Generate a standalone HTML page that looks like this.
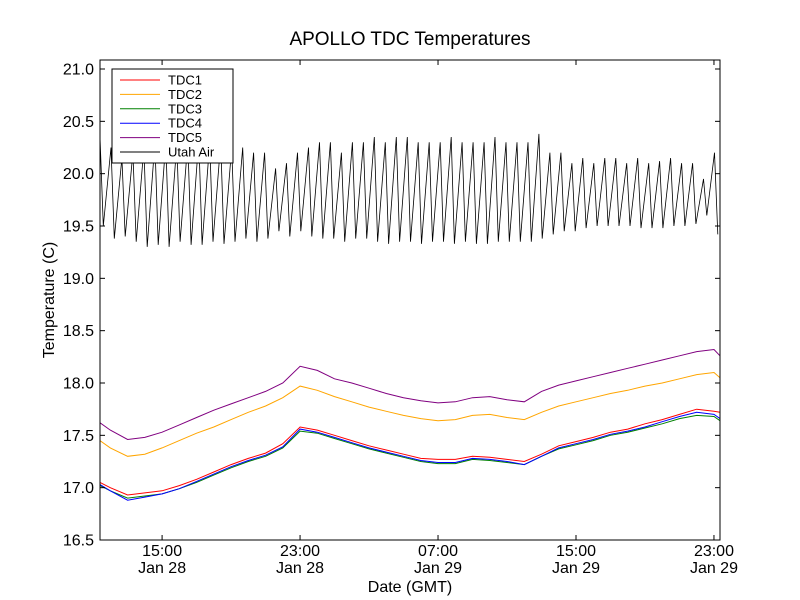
<!DOCTYPE html>
<html><head><meta charset="utf-8"><style>
body{margin:0;background:#fff;}
svg{display:block;font-family:"Liberation Sans","DejaVu Sans",sans-serif;}
</style></head><body>
<svg id="chart" width="800" height="600"></svg>
<script>
const hours=[11.4,12,13,14,15,16,17,18,19,20,21,22,23,24,25,26,27,28,29,30,31,32,33,34,35,36,37,38,39,40,41,42,43,44,45,46,47,47.35];
const tdc1=[17.05,17.0,16.93,16.95,16.97,17.02,17.08,17.15,17.22,17.28,17.33,17.42,17.58,17.55,17.5,17.45,17.4,17.36,17.32,17.28,17.27,17.27,17.3,17.29,17.27,17.25,17.32,17.4,17.44,17.48,17.53,17.56,17.61,17.65,17.7,17.75,17.73,17.72];
const tdc2=[17.45,17.38,17.3,17.32,17.38,17.45,17.52,17.58,17.65,17.72,17.78,17.86,17.97,17.93,17.87,17.82,17.77,17.73,17.69,17.66,17.64,17.65,17.69,17.7,17.67,17.65,17.72,17.78,17.82,17.86,17.9,17.93,17.97,18.0,18.04,18.08,18.1,18.05];
const tdc3=[17.02,16.97,16.9,16.92,16.94,16.99,17.05,17.12,17.19,17.25,17.3,17.38,17.54,17.52,17.47,17.42,17.37,17.33,17.29,17.25,17.23,17.23,17.27,17.26,17.24,17.22,17.3,17.37,17.41,17.45,17.5,17.53,17.57,17.61,17.66,17.69,17.68,17.64];
const tdc4=[17.03,16.97,16.88,16.91,16.94,16.99,17.06,17.13,17.2,17.26,17.31,17.39,17.56,17.53,17.48,17.43,17.38,17.34,17.3,17.26,17.24,17.24,17.28,17.27,17.25,17.22,17.3,17.38,17.42,17.46,17.51,17.54,17.58,17.63,17.68,17.72,17.7,17.66];
const tdc5=[17.62,17.55,17.46,17.48,17.53,17.6,17.67,17.74,17.8,17.86,17.92,18.0,18.16,18.12,18.04,18.0,17.95,17.9,17.86,17.83,17.81,17.82,17.86,17.87,17.84,17.82,17.92,17.98,18.02,18.06,18.1,18.14,18.18,18.22,18.26,18.3,18.32,18.26];
const utahHigh=[20.35,20.25,20.15,20.2,20.25,20.3,20.3,20.28,20.3,20.33,20.3,20.3,20.25,20.25,20.2,20.2,20.05,20.1,20.2,20.25,20.3,20.3,20.2,20.3,20.3,20.35,20.3,20.35,20.35,20.3,20.3,20.3,20.35,20.3,20.3,20.3,20.35,20.3,20.3,20.3,20.38,20.2,20.2,20.1,20.15,20.1,20.15,20.15,20.1,20.15,20.1,20.12,20.15,20.1,20.1,19.95,20.2];
const utahLow=[19.5,19.38,19.4,19.35,19.3,19.32,19.3,19.35,19.32,19.32,19.35,19.33,19.35,19.38,19.35,19.38,19.45,19.4,19.45,19.4,19.38,19.38,19.35,19.38,19.38,19.35,19.33,19.35,19.35,19.33,19.35,19.35,19.33,19.35,19.33,19.33,19.35,19.35,19.35,19.35,19.38,19.42,19.45,19.45,19.48,19.5,19.5,19.5,19.5,19.48,19.48,19.48,19.5,19.5,19.52,19.6,19.42];
const yTicks=[16.5,17.0,17.5,18.0,18.5,19.0,19.5,20.0,20.5,21.0];
const xTickHours=[15,23,31,39,47];
const xTickTop=["15:00","23:00","07:00","15:00","23:00"];
const xTickBottom=["Jan 28","Jan 28","Jan 29","Jan 29","Jan 29"];
const L=100,R=720,T=60,B=540,x0=11.4,x1=47.35,y0=16.5,y1=21.086;
const X=h=>L+(h-x0)/(x1-x0)*(R-L);
const Y=v=>B-(v-y0)/(y1-y0)*(B-T);
const NS="http://www.w3.org/2000/svg";
const svg=document.getElementById('chart');
function mk(tag,attrs,parent){const e=document.createElementNS(NS,tag);for(const k in attrs)e.setAttribute(k,attrs[k]);(parent||svg).appendChild(e);return e;}
const series=[["TDC1",tdc1,"#ff0000"],["TDC2",tdc2,"#ffa500"],["TDC3",tdc3,"#008000"],["TDC4",tdc4,"#0000ff"],["TDC5",tdc5,"#800080"]];
const clip=mk('clipPath',{id:'pc'});mk('rect',{x:L,y:T,width:R-L,height:B-T},clip);
series.forEach(s=>{
  const pts=hours.map((h,i)=>X(h).toFixed(1)+","+Y(s[1][i]).toFixed(1)).join(" ");
  const p=mk('polyline',{points:pts,fill:"none",stroke:s[2],"stroke-width":1,"clip-path":"url(#pc)"});
  
  
});
const n=utahHigh.length, per=(x1-x0)/(n-0.5);
let up=[];
for(let i=0;i<n;i++){const h=x0+i*per;up.push(X(h).toFixed(1)+","+Y(utahHigh[i]).toFixed(1));up.push(X(Math.min(h+per*0.3,x1)).toFixed(1)+","+Y(utahLow[i]).toFixed(1));}
const ua=mk('polyline',{points:up.join(" "),fill:"none",stroke:"#000","stroke-width":0.8,"clip-path":"url(#pc)"});


const fr=mk('rect',{x:L,y:T,width:R-L,height:B-T,fill:"none",stroke:"#000","stroke-width":1});


yTicks.forEach(v=>{
  const y=Y(v);
  mk('line',{x1:L,x2:L+5,y1:y,y2:y,stroke:"#000"});mk('line',{x1:R,x2:R-5,y1:y,y2:y,stroke:"#000"});
  const t=mk('text',{x:L-6,y:y+5.5,"text-anchor":"end","font-size":16});t.textContent=v.toFixed(1);
  
  
});
xTickHours.forEach((h,i)=>{
  const x=X(h);
  mk('line',{x1:x,x2:x,y1:B,y2:B-5,stroke:"#000"});mk('line',{x1:x,x2:x,y1:T,y2:T+5,stroke:"#000"});
  const t=mk('text',{x:x,y:B+16,"text-anchor":"middle","font-size":16});t.textContent=xTickTop[i];
  
  
  const t2=mk('text',{x:x,y:B+33,"text-anchor":"middle","font-size":16});t2.textContent=xTickBottom[i];
  
  
});
const ti=mk('text',{x:410,y:45,"text-anchor":"middle","font-size":19});ti.textContent="APOLLO TDC Temperatures";


const xl=mk('text',{x:410,y:592,"text-anchor":"middle","font-size":16});xl.textContent="Date (GMT)";


const yl=mk('text',{x:54,y:300,"text-anchor":"middle","font-size":16,transform:"rotate(-90 54 300)"});yl.textContent="Temperature (C)";


const lg=mk('g',{});


mk('rect',{x:112,y:69,width:121,height:94,fill:"#fff",stroke:"#000","stroke-width":1},lg);
const entries=series.map(s=>[s[0],s[2]]).concat([["Utah Air","#000"]]);
entries.forEach((e,i)=>{
  const y=80+i*14.4;
  const g=mk('g',{},lg);
  
  
  mk('line',{x1:120,x2:160,y1:y,y2:y,stroke:e[1],"stroke-width":1},g);
  const t=mk('text',{x:168,y:y+4.5,"font-size":13},g);t.textContent=e[0];
});
</script>
</body></html>
